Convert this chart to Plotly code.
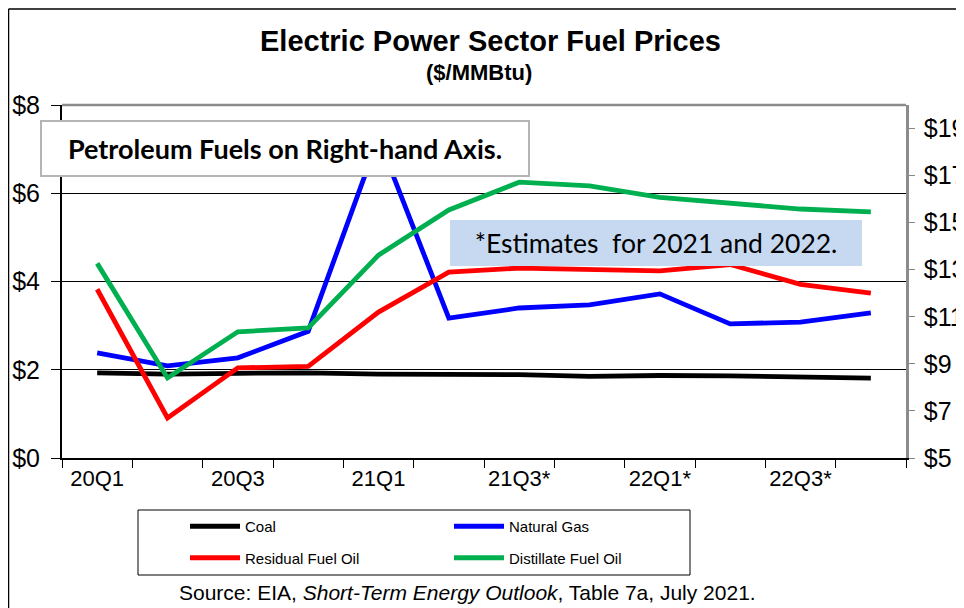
import plotly.graph_objects as go

quarters = ["20Q1", "20Q2", "20Q3", "20Q4", "21Q1", "21Q2", "21Q3", "21Q4",
            "22Q1", "22Q2", "22Q3", "22Q4"]
tick_text = ["20Q1", "", "20Q3", "", "21Q1", "", "21Q3*", "", "22Q1*", "", "22Q3*", ""]

coal = [1.93, 1.90, 1.92, 1.93, 1.90, 1.89, 1.89, 1.85, 1.87, 1.86, 1.84, 1.81]
natural_gas = [2.38, 2.09, 2.27, 2.87, 7.25, 3.17, 3.40, 3.47, 3.72, 3.04, 3.08, 3.29]
residual_fuel_oil = [12.17, 6.70, 8.83, 8.89, 11.20, 12.90, 13.07, 12.99, 12.95, 13.22, 12.38, 12.01]
distillate_fuel_oil = [13.27, 8.40, 10.36, 10.53, 13.62, 15.54, 16.72, 16.56, 16.07, 15.84, 15.58, 15.46]

left_ticks = [0, 2, 4, 6, 8]
left_labels = ["$0", "$2", "$4", "$6", "$8"]
right_ticks = [5, 7, 9, 11, 13, 15, 17, 19]
right_labels = ["$5", "$7", "$9", "$11", "$13", "$15", "$17", "$19"]

ARIAL = "Arial, Liberation Sans, sans-serif"
LATO = "Lato, Open Sans, sans-serif"
OFF = 8  # page offset of the figure inside the browser window
W, H = 964 - OFF, 608 - OFF
L, R, T, B = 62 - OFF, 964 - 906, 105 - OFF, 608 - 458
PW = W - L - R
PH = H - T - B


def px_x(p):
    return (p - OFF - L) / PW


def px_y(p):
    return (H - B - (p - OFF)) / PH


fig = go.Figure()
fig.add_trace(go.Scatter(x=quarters, y=coal, name="Coal", mode="lines",
                         line=dict(color="#000000", width=4.8), legend="legend", legendgroup="a"))
fig.add_trace(go.Scatter(x=quarters, y=natural_gas, name="Natural Gas", mode="lines",
                         line=dict(color="#0000ff", width=4.8), legend="legend2", legendgroup="b"))
fig.add_trace(go.Scatter(x=quarters, y=residual_fuel_oil, name="Residual Fuel Oil", mode="lines",
                         line=dict(color="#ff0000", width=4.8), yaxis="y2", legend="legend", legendgroup="c"))
fig.add_trace(go.Scatter(x=quarters, y=distillate_fuel_oil, name="Distillate Fuel Oil", mode="lines",
                         line=dict(color="#00b050", width=4.8), yaxis="y2", legend="legend2", legendgroup="d"))

legend_style = dict(font=dict(family=ARIAL, size=15, color="#000"), bgcolor="rgba(0,0,0,0)",
                    orientation="v", xanchor="left", yanchor="top", tracegroupgap=9,
                    itemwidth=50, y=px_y(510))

fig.update_layout(
    width=W, height=H,
    margin=dict(l=L, r=R, t=T, b=B, autoexpand=False),
    paper_bgcolor="white", plot_bgcolor="white",
    showlegend=True,
    legend=dict(**legend_style, x=px_x(185)),
    legend2=dict(**legend_style, x=px_x(449)),
    xaxis=dict(type="category", tickmode="array", tickvals=quarters, ticktext=tick_text,
               tickson="boundaries", ticks="outside", ticklen=8, tickcolor="#000",
               showline=True, linecolor="#000", linewidth=1.5, showgrid=False,
               tickfont=dict(family=ARIAL, size=22, color="#000"), tickangle=0,
               range=[-0.5, 11.5]),
    yaxis=dict(range=[0, 8], tickmode="array", tickvals=left_ticks, ticktext=left_labels,
               ticks="outside", ticklen=9, tickcolor="#000", showline=True, linecolor="#000",
               linewidth=2, showgrid=True, gridcolor="#000", gridwidth=1, zeroline=False,
               ticklabelstandoff=6,
               tickfont=dict(family=ARIAL, size=25, color="#000")),
    yaxis2=dict(range=[5, 20], overlaying="y", side="right", tickmode="array",
                tickvals=right_ticks, ticktext=right_labels, ticks="outside", ticklen=6,
                tickcolor="#888", showline=True, linecolor="#8c8c8c", linewidth=2.5,
                showgrid=False, zeroline=False, ticklabelstandoff=4,
                tickfont=dict(family=ARIAL, size=25, color="#000")),
    shapes=[
        dict(type="line", xref="paper", yref="paper", x0=0, x1=1, y0=1, y1=1,
             line=dict(color="#8c8c8c", width=2.5), layer="above"),
        dict(type="rect", xref="paper", yref="paper", x0=px_x(138), x1=px_x(690),
             y0=px_y(510), y1=px_y(575), line=dict(color="#000", width=1)),
        dict(type="line", xref="paper", yref="paper", x0=px_x(8.5), x1=px_x(8.5),
             y0=px_y(9), y1=px_y(610), line=dict(color="#000", width=1.5)),
        dict(type="line", xref="paper", yref="paper", x0=px_x(8.5), x1=px_x(970),
             y0=px_y(9), y1=px_y(9), line=dict(color="#000", width=1.5)),
    ],
    annotations=[
        dict(text="<b>Electric Power Sector Fuel Prices</b>", xref="paper", yref="paper",
             x=px_x(490), y=px_y(41), xanchor="center", yanchor="middle", showarrow=False,
             font=dict(family=ARIAL, size=29, color="#000")),
        dict(text="<b>($/MMBtu)</b>", xref="paper", yref="paper",
             x=px_x(479), y=px_y(73), xanchor="center", yanchor="middle", showarrow=False,
             font=dict(family=ARIAL, size=22, color="#000")),
        dict(text="<b>Petroleum Fuels on Right-hand Axis.</b>", xref="paper", yref="paper",
             x=px_x(285), y=px_y(148.5), xanchor="center", yanchor="middle", showarrow=False,
             width=486, height=53, bgcolor="white", bordercolor="#b4b4b4", borderwidth=2,
             borderpad=0, align="center", font=dict(family=LATO, size=27, color="#000")),
        dict(text="*Estimates\u00a0 for 2021 and 2022.", xref="paper", yref="paper",
             x=px_x(656), y=px_y(243), xanchor="center", yanchor="middle", showarrow=False,
             width=412, height=46, bgcolor="#c6d9f0", borderwidth=0, borderpad=0,
             align="center", font=dict(family=LATO, size=26.5, color="#000")),
        dict(text="Source: EIA, <i>Short-Term Energy Outlook</i>, Table 7a, July 2021.",
             xref="paper", yref="paper", x=px_x(467), y=px_y(592), xanchor="center",
             yanchor="middle", showarrow=False,
             font=dict(family=ARIAL, size=21, color="#000")),
    ],
)

fig.write_html("out.html")
